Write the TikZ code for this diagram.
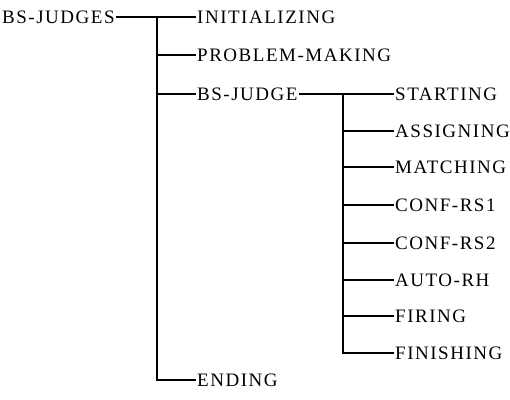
\documentclass[tikz,border=0pt]{standalone}
\usepackage{fontspec}
\setmainfont[LetterSpace=8]{Liberation Serif}
\usetikzlibrary{positioning}
\newcommand{\hy}{\kern1.5pt-\kern1.5pt}
\tikzset{
    item/.style={anchor=west,inner sep=1pt,font=\fontsize{19}{21}\selectfont},
    branch/.style={line width=1.2pt,black}
}

\begin{document}
\begin{tikzpicture}[x=1pt,y=-1pt]
    \useasboundingbox (0,0) rectangle (510,399);
    % top level
    \node[item] (root) at (1,17) {BS\hy JUDGES};
    \node[item] (init) at (196,17) {INITIALIZING};
    \node[item] (prob) at (196,55) {PROBLEM\hy MAKING};
    \node[item] (judge) at (196,94) {BS\hy JUDGE};
    \node[item] (ending) at (196,380) {ENDING};
    % second level
    \node[item] (start) at (394,94) {STARTING};
    \node[item] (assign) at (394,131) {ASSIGNING};
    \node[item] (match) at (394,167) {MATCHING};
    \node[item] (rs1) at (394,205) {CONF\hy RS1};
    \node[item] (rs2) at (394,243) {CONF\hy RS2};
    \node[item] (auto) at (394,280) {AUTO\hy RH};
    \node[item] (fire) at (394,316) {FIRING};
    \node[item] (finish) at (394,353) {FINISHING};
    % junctions
    \coordinate (t1) at (157,17);
    \coordinate (t2) at (343,94);
    % connectors
    \draw[branch] (root) -- (init);
    \draw[branch] (t1) |- (ending);
    \draw[branch] (t1 |- prob) -- (prob);
    \draw[branch] (t1 |- judge) -- (judge);
    \draw[branch] (judge) -- (start);
    \draw[branch] (t2) |- (finish);
    \foreach \n in {assign,match,rs1,rs2,auto,fire}
        \draw[branch] (t2 |- \n) -- (\n);
\end{tikzpicture}
\end{document}
